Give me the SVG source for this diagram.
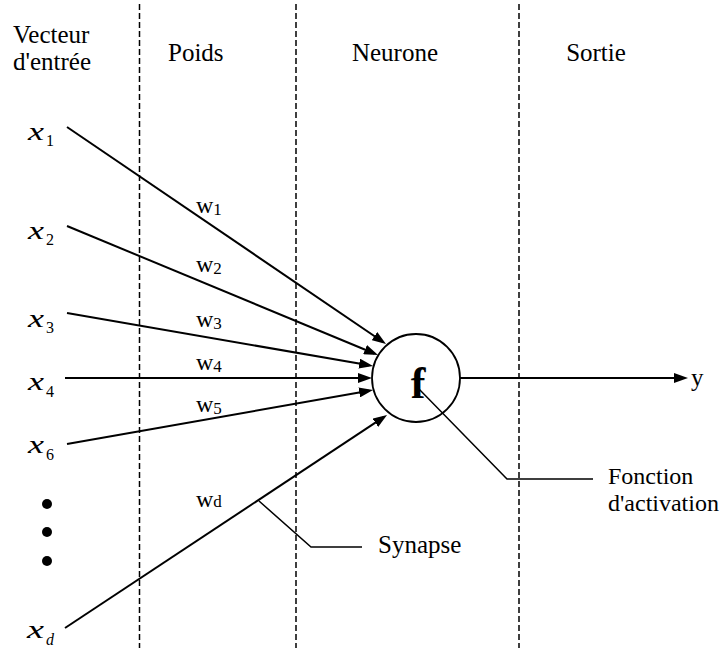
<svg xmlns="http://www.w3.org/2000/svg" width="727" height="648" viewBox="0 0 727 648">
<style>
.t{font-family:"Liberation Serif","Times New Roman",serif;font-size:25px;fill:#000}
.w{font-family:"Liberation Serif","Times New Roman",serif;font-size:24px;fill:#000}
.ws{font-family:"Liberation Serif","Times New Roman",serif;font-size:17px;fill:#000}
.x{font-family:"Liberation Serif","Times New Roman",serif;font-style:italic;font-size:25px;fill:#000}
.xs{font-family:"Liberation Serif","Times New Roman",serif;font-size:16px;fill:#000}
.xd{font-family:"Liberation Serif","Times New Roman",serif;font-style:italic;font-size:16px;fill:#000}
.dash{stroke:#000;stroke-width:1.5;stroke-dasharray:6 3;fill:none}
.edge{stroke:#000;stroke-width:2;fill:none}
.call{stroke:#000;stroke-width:1.5;fill:none}
</style>
<defs>
<marker id="ah" markerUnits="userSpaceOnUse" markerWidth="14" markerHeight="10" viewBox="0 0 14 10" refX="10" refY="5" orient="auto">
<path d="M0,0 L14,5 L0,10 z" fill="#000"/>
</marker>
</defs>
<rect width="727" height="648" fill="#fff"/>
<g id="columns">
<line class="dash" x1="139.5" y1="4" x2="139.5" y2="648"/>
<line class="dash" x1="296" y1="4" x2="296" y2="648"/>
<line class="dash" x1="519" y1="4" x2="519" y2="648"/>
<text class="t" x="13" y="43">Vecteur</text>
<text class="t" x="13" y="70">d'entrée</text>
<text class="t" x="168" y="61">Poids</text>
<text class="t" x="395" y="61" text-anchor="middle">Neurone</text>
<text class="t" x="596" y="61" text-anchor="middle">Sortie</text>
</g>
<g id="inputs">
<text class="x" x="28" y="140" textLength="16" lengthAdjust="spacingAndGlyphs">x</text><text class="xs" x="46" y="146">1</text>
<text class="x" x="28" y="239" textLength="16" lengthAdjust="spacingAndGlyphs">x</text><text class="xs" x="46" y="245">2</text>
<text class="x" x="28" y="327" textLength="16" lengthAdjust="spacingAndGlyphs">x</text><text class="xs" x="46" y="333">3</text>
<text class="x" x="28" y="390" textLength="16" lengthAdjust="spacingAndGlyphs">x</text><text class="xs" x="46" y="397">4</text>
<text class="x" x="28" y="453" textLength="16" lengthAdjust="spacingAndGlyphs">x</text><text class="xs" x="46" y="460">6</text>
<text class="x" x="27" y="638" textLength="17" lengthAdjust="spacingAndGlyphs">x</text><text class="xd" x="46" y="645">d</text>
<circle cx="47" cy="504" r="5" fill="#000"/>
<circle cx="47" cy="532" r="5" fill="#000"/>
<circle cx="47" cy="561" r="5" fill="#000"/>
</g>
<g id="neuron">
<circle cx="416" cy="378" r="44" fill="#fff" stroke="#000" stroke-width="1.8"/>
<text x="418" y="398" text-anchor="middle" font-family="Liberation Serif, Times New Roman, serif" font-weight="bold" font-size="44">f</text>
</g>
<g id="connectors">
<line class="edge" x1="67" y1="127" x2="382.7" y2="341.75" marker-end="url(#ah)"/>
<line class="edge" x1="67" y1="226" x2="374.3" y2="353.5" marker-end="url(#ah)"/>
<line class="edge" x1="67" y1="313" x2="369.1" y2="365.3" marker-end="url(#ah)"/>
<line class="edge" x1="65" y1="378" x2="368" y2="378" marker-end="url(#ah)"/>
<line class="edge" x1="67" y1="444" x2="369.1" y2="390.7" marker-end="url(#ah)"/>
<line class="edge" x1="65" y1="628" x2="383.7" y2="417.2" marker-end="url(#ah)"/>
<line class="edge" x1="460" y1="378" x2="684" y2="378" marker-end="url(#ah)"/>
<polyline class="call" points="418,388 507,479 593,479"/>
<polyline class="call" points="259,501 311,547 362,547"/>
</g>
<g id="weights">
<text class="w" x="196" y="213">w<tspan class="ws" dy="2">1</tspan></text>
<text class="w" x="196" y="272">w<tspan class="ws" dy="2">2</tspan></text>
<text class="w" x="196" y="327">w<tspan class="ws" dy="2">3</tspan></text>
<text class="w" x="196" y="370">w<tspan class="ws" dy="2">4</tspan></text>
<text class="w" x="196" y="412">w<tspan class="ws" dy="2">5</tspan></text>
<text class="w" x="196" y="507">w<tspan class="ws" dy="0">d</tspan></text>
</g>
<g id="labels">
<text class="t" x="691" y="386">y</text>
<text class="t" x="608" y="484" style="font-size:24px">Fonction</text>
<text class="t" x="608" y="511" style="font-size:24px">d'activation</text>
<text class="t" x="378" y="553">Synapse</text>
</g>
</svg>
